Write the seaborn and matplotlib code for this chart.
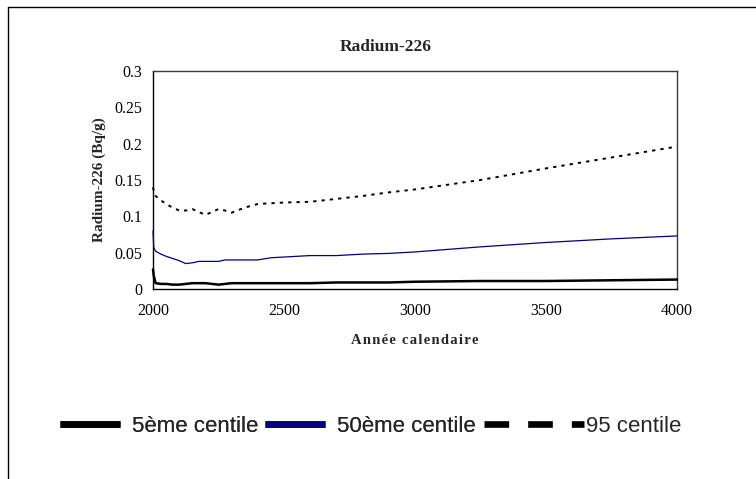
import numpy as np
import pandas as pd
import matplotlib
matplotlib.use("Agg")
import matplotlib.pyplot as plt
from matplotlib.lines import Line2D
import seaborn as sns

# ============================================================
# DONNÉES
# ============================================================

annees = [2000, 2003, 2010, 2030, 2050, 2075, 2100, 2125, 2150, 2175,
          2200, 2225, 2250, 2275, 2300, 2350, 2400, 2450, 2500, 2600,
          2700, 2800, 2900, 3000, 3250, 3500, 3750, 4000]

centile_5 = [0.027, 0.018, 0.008, 0.007, 0.007, 0.006, 0.006, 0.007, 0.008, 0.008,
             0.008, 0.007, 0.006, 0.007, 0.008, 0.008, 0.008, 0.008, 0.008, 0.008,
             0.009, 0.009, 0.009, 0.010, 0.011, 0.011, 0.012, 0.013]

centile_50 = [0.080, 0.057, 0.052, 0.048, 0.045, 0.042, 0.039, 0.035, 0.036, 0.038,
              0.038, 0.038, 0.038, 0.040, 0.040, 0.040, 0.040, 0.043, 0.044, 0.046,
              0.046, 0.048, 0.049, 0.051, 0.058, 0.064, 0.069, 0.073]

centile_95 = [0.140, 0.135, 0.128, 0.122, 0.117, 0.112, 0.108, 0.108, 0.110, 0.106,
              0.102, 0.106, 0.110, 0.108, 0.105, 0.112, 0.117, 0.118, 0.119, 0.120,
              0.124, 0.128, 0.133, 0.137, 0.150, 0.166, 0.181, 0.196]

noms_series = ["5ème centile", "50ème centile", "95 centile"]
x_ticks = [2000, 2500, 3000, 3500, 4000]
y_ticks = [0, 0.05, 0.1, 0.15, 0.2, 0.25, 0.3]
y_labels = ["0", "0.05", "0.1", "0.15", "0.2", "0.25", "0.3"]

df = pd.DataFrame({
    "annee": annees * 3,
    "valeur": centile_5 + centile_50 + centile_95,
    "serie": sum([[n] * len(annees) for n in noms_series], []),
})

# ============================================================
# FIGURE
# ============================================================

sns.set_style("white")
plt.rcParams["font.family"] = ["Liberation Serif", "DejaVu Serif"]

fig = plt.figure(figsize=(7.56, 4.79), dpi=100)
ax = fig.add_axes([153 / 756, 1 - 289 / 479, (677 - 153) / 756, (289 - 71) / 479])

styles = {
    "5ème centile": dict(color="black", linewidth=1.8),
    "50ème centile": dict(color="#000080", linewidth=0.9),
    "95 centile": dict(color="black", linewidth=1.4, dashes=(1.7, 2.6)),
}

for nom in noms_series:
    sous = df[df["serie"] == nom]
    sns.lineplot(data=sous, x="annee", y="valeur", ax=ax, legend=False,
                 estimator=None, sort=False, zorder=3, clip_on=False,
                 **styles[nom])

ax.set_xlim(2000, 4000)
ax.set_ylim(0, 0.3)
ax.set_xticks(x_ticks)
ax.set_xticklabels([str(v) for v in x_ticks])
ax.set_yticks(y_ticks)
ax.set_yticklabels(y_labels)

ax.tick_params(axis="x", direction="inout", length=6, width=0.8,
               labelsize=11.5, pad=7, colors="black")
ax.tick_params(axis="y", direction="out", length=3.5, width=0.8,
               labelsize=11.5, pad=4, colors="black")

for cote in ["left", "bottom"]:
    ax.spines[cote].set_color("black")
    ax.spines[cote].set_linewidth(1.0)
for cote in ["top", "right"]:
    ax.spines[cote].set_color("#3c3c3c")
    ax.spines[cote].set_linewidth(1.0)

# espacement des lettres comme dans l'original
titre_x = "\u200a".join("Année calendaire")
ax.set_xlabel(titre_x, fontsize=10.5, fontweight="bold", labelpad=11)
ax.set_ylabel("Radium-226 (Bq/g)", fontsize=11, fontweight="bold", labelpad=6.5)
fig.text(386 / 756, 1 - 47 / 479, "Radium-226", ha="center", va="center",
         fontsize=12.5, fontweight="bold")

# légende sous le graphique (deux blocs : le trait pointillé est plus long)
poignees = [
    Line2D([], [], color="black", linewidth=4.8, solid_capstyle="butt"),
    Line2D([], [], color="#000080", linewidth=4.8, solid_capstyle="butt"),
]
poignee_95 = Line2D([], [], color="black", linewidth=4.8,
                    dashes=(3.7, 2.85), dash_capstyle="butt")
police_leg = {"family": "Liberation Sans", "size": 16}

leg1 = fig.legend(poignees, noms_series[:2], loc="center left",
                  bbox_to_anchor=(60 / 756, 1 - 426 / 479), ncol=2, frameon=False,
                  prop=police_leg, handlelength=2.7, handletextpad=0.55,
                  columnspacing=0.27, borderpad=0, borderaxespad=0)
fig.legend([poignee_95], noms_series[2:], loc="center left",
           bbox_to_anchor=(484 / 756, 1 - 426 / 479), frameon=False,
           prop=police_leg, handlelength=4.5, handletextpad=0.1,
           borderpad=0, borderaxespad=0)
fig.add_artist(leg1)

# cadre extérieur
fig.add_artist(Line2D([8 / 756, 8 / 756], [0, 1 - 7 / 479], color="black",
                      linewidth=1.0, transform=fig.transFigure))
fig.add_artist(Line2D([8 / 756, 1], [1 - 7 / 479, 1 - 7 / 479], color="black",
                      linewidth=1.0, transform=fig.transFigure))

fig.savefig("out.png", dpi=100)
plt.close(fig)
